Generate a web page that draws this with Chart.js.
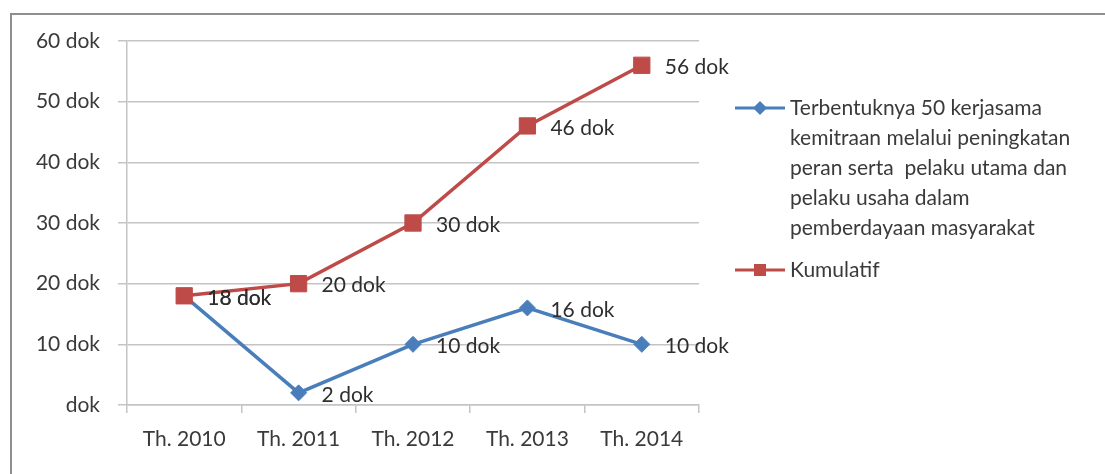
<!DOCTYPE html>
<html>
<head>
<meta charset="utf-8">
<script src="https://cdn.jsdelivr.net/npm/chart.js@4"></script>
<style>
  html, body { margin: 0; padding: 0; background: #fff; }
  #wrap { position: relative; width: 1105px; height: 474px; overflow: hidden; }
  #frame { position: absolute; left: 10px; top: 13px; right: -10px; bottom: -10px;
           border-left: 2px solid #8e8e8e; border-top: 2px solid #8e8e8e; }
  canvas { position: absolute; left: 0; top: 0; }
</style>
</head>
<body>
<div id="wrap">
  <div id="frame"></div>
  <canvas id="chart" width="1105" height="474"></canvas>
</div>
<script>
// data
const categories = ['Th. 2010', 'Th. 2011', 'Th. 2012', 'Th. 2013', 'Th. 2014'];
const kerjasama = [18, 2, 10, 16, 10];
const kumulatif = [18, 20, 30, 46, 56];
const yTickLabels = ['dok', '10 dok', '20 dok', '30 dok', '40 dok', '50 dok', '60 dok'];
const legendLines = [
  ['Terbentuknya 50 kerjasama', 'kemitraan melalui peningkatan', 'peran serta  pelaku utama dan',
   'pelaku usaha dalam', 'pemberdayaan masyarakat'],
  ['Kumulatif']
];
const unit = ' dok';

const FONT = 'Lato, "Open Sans", sans-serif';
const TEXT = '#3a3a3a';
const GRID = '#c4c4c4';
const BLUE = '#4A7EBB';
const RED = '#BE4B48';

// label titik
const pointLabels = {
  id: 'pointLabels',
  afterDatasetsDraw(chart) {
    const ctx = chart.ctx;
    ctx.save();
    ctx.font = '21px ' + FONT;
    ctx.fillStyle = '#2e2e2e';
    ctx.textAlign = 'left';
    ctx.textBaseline = 'middle';
    chart.data.datasets.forEach((ds, i) => {
      chart.getDatasetMeta(i).data.forEach((pt, j) => {
        ctx.fillText(ds.data[j] + unit, pt.x + 23, pt.y + 2);
      });
    });
    ctx.restore();
  }
};

// legenda di kanan
const sideLegend = {
  id: 'sideLegend',
  afterDraw(chart) {
    const ctx = chart.ctx;
    const x0 = 735, x1 = 785, tx = 790;
    const rows = [108, 270];
    ctx.save();
    ctx.font = '21px ' + FONT;
    ctx.textBaseline = 'middle';
    ctx.textAlign = 'left';
    chart.data.datasets.forEach((ds, i) => {
      const y = rows[i];
      ctx.strokeStyle = ds.borderColor;
      ctx.lineWidth = 3;
      ctx.beginPath();
      ctx.moveTo(x0, y);
      ctx.lineTo(x1, y);
      ctx.stroke();
      ctx.fillStyle = ds.backgroundColor;
      ctx.beginPath();
      if (ds.pointStyle === 'rect') {
        ctx.rect(x0 + 19, y - 6, 12, 12);
      } else {
        ctx.moveTo(x0 + 25, y - 7);
        ctx.lineTo(x0 + 32, y);
        ctx.lineTo(x0 + 25, y + 7);
        ctx.lineTo(x0 + 18, y);
        ctx.closePath();
      }
      ctx.fill();
      ctx.fillStyle = TEXT;
      legendLines[i].forEach((line, k) => {
        ctx.fillText(line, tx, y + k * 30);
      });
    });
    ctx.restore();
  }
};

new Chart(document.getElementById('chart'), {
  type: 'line',
  data: {
    labels: categories,
    datasets: [
      {
        label: legendLines[0].join(' '),
        data: kerjasama,
        borderColor: BLUE,
        backgroundColor: BLUE,
        borderWidth: 3.5,
        pointStyle: 'rectRot',
        pointRadius: 8,
        pointBorderWidth: 1,
        tension: 0,
        order: 1
      },
      {
        label: legendLines[1][0],
        data: kumulatif,
        borderColor: RED,
        backgroundColor: RED,
        borderWidth: 3.5,
        pointStyle: 'rect',
        pointRadius: 11.5,
        pointBorderWidth: 1,
        tension: 0,
        order: 0
      }
    ]
  },
  options: {
    responsive: false,
    animation: false,
    layout: { padding: { top: 41, right: 406, bottom: 0, left: 0 } },
    plugins: {
      legend: { display: false },
      tooltip: { enabled: false }
    },
    scales: {
      x: {
        offset: true,
        afterFit(scale) { scale.height = 69; },
        grid: {
          offset: true,
          drawOnChartArea: false,
          drawTicks: true,
          tickLength: 8,
          color: GRID,
          lineWidth: 1.5
        },
        border: { display: true, color: GRID, width: 1.5 },
        ticks: {
          padding: 14,
          color: TEXT,
          font: { family: FONT, size: 21 },
          maxRotation: 0
        }
      },
      y: {
        min: 0,
        max: 60,
        afterFit(scale) { scale.width = 127; },
        grid: {
          color: GRID,
          lineWidth: 1.5,
          drawTicks: true,
          tickLength: 9
        },
        border: { display: true, color: GRID, width: 1.5 },
        ticks: {
          stepSize: 10,
          padding: 18,
          color: TEXT,
          font: { family: FONT, size: 21 },
          callback: (v, i) => yTickLabels[i]
        }
      }
    }
  },
  plugins: [pointLabels, sideLegend]
});
</script>
</body>
</html>
